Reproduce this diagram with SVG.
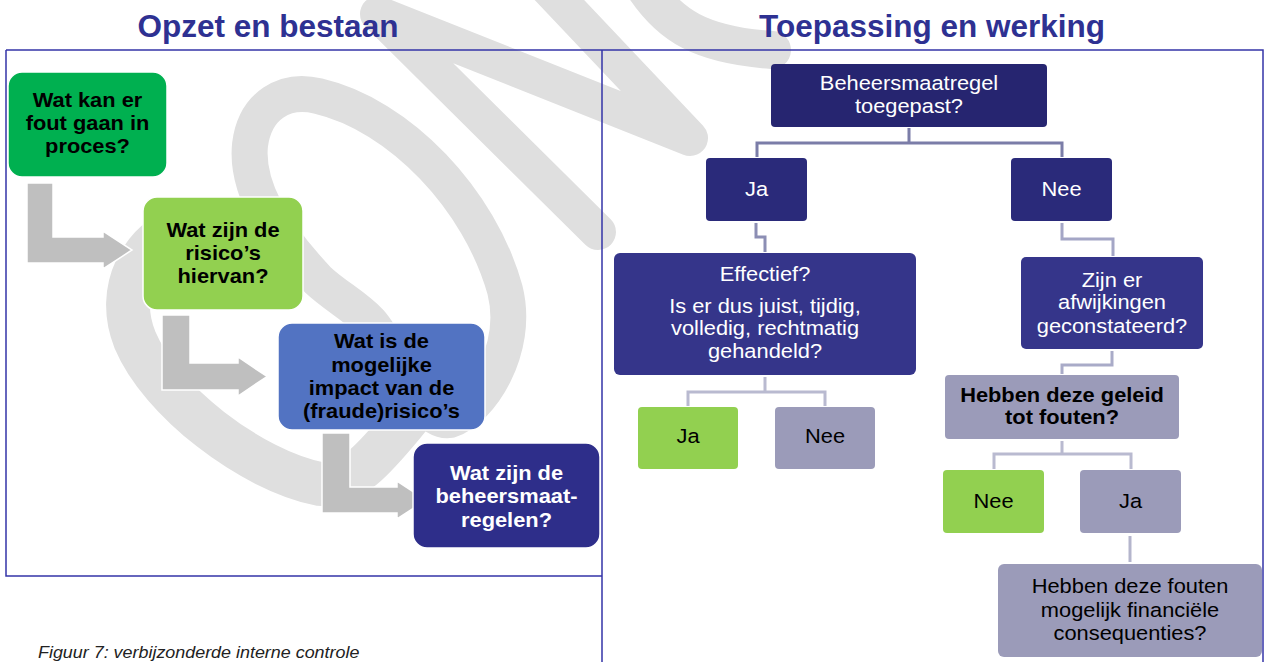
<svg xmlns="http://www.w3.org/2000/svg" width="1265" height="662" viewBox="0 0 1265 662">
  <style>
    text { font-family: "Liberation Sans", Arial, sans-serif; }
    .title { font-size: 31.5px; font-weight: bold; fill: #2e3192; text-anchor: middle; }
    .caption { font-size: 16px; font-style: italic; fill: #222; }
    .lbl { font-size: 19.5px; text-anchor: middle; }
    .bold { font-weight: bold; }
    .dark { fill: #000; }
    .light { fill: #fff; }
    .frame { fill: none; stroke: #3535a8; stroke-width: 1.5; }
    .wm { fill: none; stroke: #dfdfdf; stroke-linecap: round; stroke-linejoin: round; }
    .step { stroke: #fff; stroke-width: 1.5; }
    .bent { fill: #bfbfbf; stroke: #fff; stroke-width: 1.5; }
    .q { stroke: none; }
    .conn { fill: none; stroke-width: 3; }
  </style>

  <!-- background watermark strokes -->
  <g id="watermark">
    <path class="wm" stroke-width="36" d="M 318,280 C 285,245 245,195 250,145 C 255,105 285,88 318,96 C 400,115 480,200 505,290 C 520,350 480,410 450,420 C 420,425 395,350 370,322 C 355,306 335,296 318,280 Z"/>
    <path class="wm" stroke-width="44" d="M 190,222 C 140,240 115,290 135,340 C 160,400 250,470 320,484 C 355,488 385,445 415,410"/>
    <path class="wm" stroke-width="36" d="M 598,232 L 378,14 L 690,138 L 548,-12"/>
    <path class="wm" stroke-width="38" d="M 645,-12 C 670,25 700,45 772,50"/>
  </g>

  <!-- headings -->
  <text class="title" x="268" y="37">Opzet en bestaan</text>
  <text class="title" x="932" y="37">Toepassing en werking</text>

  <!-- panel frames -->
  <g id="frames">
    <path class="frame" d="M 6,50 H 1263 V 662 M 6,50 V 576 H 602 M 602,50 V 662"/>
  </g>

  <text class="caption" transform="translate(38 658) scale(1.12 1)" x="0" y="0">Figuur 7: verbijzonderde interne controle</text>

  <!-- connectors -->
  <g id="connectors">
    <polygon class="bent" points="27,183 53,183 53,237 103,237 103,231 132,250 103,269 103,263 27,263"/>
    <polygon class="bent" points="162,315 190,315 190,363 238,363 238,357 267,376.5 238,396 238,390 162,390"/>
    <polygon class="bent" points="322,433 350,433 350,487 397,487 397,481 426,500 397,519 397,513 322,513"/>

    <path class="conn" stroke="#7b7da8" d="M 909,128 V 143 M 757,157 V 143 H 1062 V 157"/>
    <path class="conn" stroke="#8c8eb4" d="M 756,223 V 237 H 765 V 252"/>
    <path class="conn" stroke="#a4a6c6" d="M 1062,223 V 239 H 1113 V 256"/>
    <path class="conn" stroke="#b9bad0" d="M 765,377 V 392 M 688,406 V 392 H 825 V 406"/>
    <path class="conn" stroke="#a9abc8" d="M 1112,351 V 365 H 1062 V 374"/>
    <path class="conn" stroke="#b9bad0" d="M 1062,441 V 454 M 994,469 V 454 H 1131 V 469"/>
    <path class="conn" stroke="#b4b5cc" d="M 1130,536 V 562"/>
  </g>

  <!-- left column: design and existence -->
  <g id="s1">
    <rect class="step" x="8" y="72" width="159" height="105" rx="14" fill="#00b050"/>
    <text class="lbl bold dark" transform="translate(87.5 0) scale(1.12 1)">
      <tspan x="0" y="107">Wat kan er</tspan><tspan x="0" y="130">fout gaan in</tspan><tspan x="0" y="153">proces?</tspan>
    </text>
  </g>
  <g id="s2">
    <rect class="step" x="143" y="197" width="160" height="113" rx="14" fill="#92d050"/>
    <text class="lbl bold dark" transform="translate(223 0) scale(1.12 1)">
      <tspan x="0" y="237">Wat zijn de</tspan><tspan x="0" y="260">risico’s</tspan><tspan x="0" y="283">hiervan?</tspan>
    </text>
  </g>
  <g id="s3">
    <rect class="step" x="278" y="323" width="207" height="107" rx="14" fill="#5273c2"/>
    <text class="lbl bold dark" transform="translate(381.5 0) scale(1.12 1)">
      <tspan x="0" y="348">Wat is de</tspan><tspan x="0" y="372">mogelijke</tspan><tspan x="0" y="395">impact van de</tspan><tspan x="0" y="418">(fraude)risico’s</tspan>
    </text>
  </g>
  <g id="s4">
    <rect class="step" x="413" y="443" width="187" height="105" rx="14" fill="#2e2e8a"/>
    <text class="lbl bold light" transform="translate(506.5 0) scale(1.12 1)">
      <tspan x="0" y="480">Wat zijn de</tspan><tspan x="0" y="503">beheersmaat-</tspan><tspan x="0" y="527">regelen?</tspan>
    </text>
  </g>

  <!-- right column: application and operation -->
  <g id="q-applied">
    <rect class="q" x="771" y="64" width="276" height="63" rx="4" fill="#262570"/>
    <text class="lbl light" transform="translate(909 0) scale(1.12 1)">
      <tspan x="0" y="90">Beheersmaatregel</tspan><tspan x="0" y="113">toegepast?</tspan>
    </text>
  </g>
  <g id="a-ja">
    <rect class="q" x="706" y="158" width="101" height="63" rx="4" fill="#2a2a7a"/>
    <text class="lbl light" transform="translate(756.5 0) scale(1.12 1)" x="0" y="196">Ja</text>
  </g>
  <g id="a-nee">
    <rect class="q" x="1011" y="158" width="101" height="63" rx="4" fill="#2a2a7a"/>
    <text class="lbl light" transform="translate(1061.5 0) scale(1.12 1)" x="0" y="196">Nee</text>
  </g>
  <g id="q-effective">
    <rect class="q" x="614" y="253" width="302" height="122" rx="6" fill="#35358a"/>
    <text class="lbl light" transform="translate(765 0) scale(1.12 1)">
      <tspan x="0" y="281">Effectief?</tspan><tspan x="0" y="313">Is er dus juist, tijdig,</tspan><tspan x="0" y="335">volledig, rechtmatig</tspan><tspan x="0" y="358">gehandeld?</tspan>
    </text>
  </g>
  <g id="q-deviations">
    <rect class="q" x="1021" y="257" width="182" height="92" rx="5" fill="#35358a"/>
    <text class="lbl light" transform="translate(1112 0) scale(1.12 1)">
      <tspan x="0" y="287">Zijn er</tspan><tspan x="0" y="309">afwijkingen</tspan><tspan x="0" y="333">geconstateerd?</tspan>
    </text>
  </g>
  <g id="e-ja">
    <rect class="q" x="638" y="407" width="100" height="62" rx="4" fill="#92d050"/>
    <text class="lbl dark" transform="translate(688 0) scale(1.12 1)" x="0" y="443">Ja</text>
  </g>
  <g id="e-nee">
    <rect class="q" x="775" y="407" width="100" height="62" rx="4" fill="#9b9bb9"/>
    <text class="lbl dark" transform="translate(825 0) scale(1.12 1)" x="0" y="443">Nee</text>
  </g>
  <g id="q-errors">
    <rect class="q" x="945" y="375" width="234" height="64" rx="4" fill="#9b9bb9"/>
    <text class="lbl bold dark" transform="translate(1062 0) scale(1.12 1)">
      <tspan x="0" y="402">Hebben deze geleid</tspan><tspan x="0" y="424">tot fouten?</tspan>
    </text>
  </g>
  <g id="f-nee">
    <rect class="q" x="943" y="470" width="101" height="63" rx="4" fill="#92d050"/>
    <text class="lbl dark" transform="translate(993.5 0) scale(1.12 1)" x="0" y="508">Nee</text>
  </g>
  <g id="f-ja">
    <rect class="q" x="1080" y="470" width="101" height="63" rx="4" fill="#9b9bb9"/>
    <text class="lbl dark" transform="translate(1130.5 0) scale(1.12 1)" x="0" y="508">Ja</text>
  </g>
  <g id="q-financial">
    <rect class="q" x="998" y="564" width="264" height="93" rx="6" fill="#9b9bb9"/>
    <text class="lbl dark" transform="translate(1130 0) scale(1.12 1)">
      <tspan x="0" y="593">Hebben deze fouten</tspan><tspan x="0" y="617">mogelijk financiële</tspan><tspan x="0" y="640">consequenties?</tspan>
    </text>
  </g>
</svg>
